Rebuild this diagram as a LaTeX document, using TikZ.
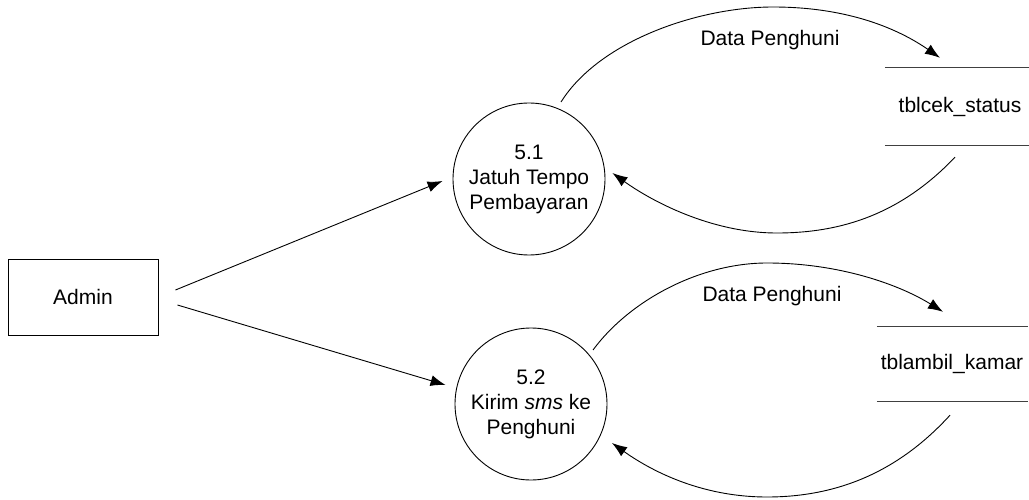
\documentclass[tikz,border=0pt]{standalone}
\usepackage{fontspec}
\setmainfont{Liberation Sans}
\usetikzlibrary{arrows.meta,calc}
\begin{document}
\begin{tikzpicture}[x=1pt,y=-1pt,
  every node/.style={font=\fontsize{21}{25}\selectfont},
  flow/.style={line width=0.9pt,-{Latex[length=15pt,width=11pt]}},
  proc/.style={circle,draw,line width=0.9pt,minimum size=152pt,inner sep=0pt,align=center},
  ent/.style={rectangle,draw,line width=0.9pt,minimum width=150pt,minimum height=76pt,inner sep=0pt},
  store/.style={rectangle,inner sep=0pt},
  storeline/.style={line width=0.9pt,draw=black!75},
  lbl/.style={inner sep=0pt}]
\useasboundingbox (0,0) rectangle (1029,500);

\node[ent] (admin) at (83,297) {Admin};
\node[proc] (c1) at (529,179) {5.1\\Jatuh Tempo\\Pembayaran};
\node[proc] (c2) at (531,404) {5.2\\Kirim \textit{sms} ke\\Penghuni};

\node[store,minimum width=144pt,minimum height=77pt] (s1) at (957,106.5) {};
\node[lbl] (t1) at (960,107) {tblcek\_status};
\draw[storeline] (s1.north west) -- (s1.north east);
\draw[storeline] (s1.south west) -- (s1.south east);

\node[store,minimum width=151pt,minimum height=74pt] (s2) at (952.5,364) {};
\node[lbl] (t2) at (952,364) {tblambil\_kamar};
\draw[storeline] (s2.north west) -- (s2.north east);
\draw[storeline] (s2.south west) -- (s2.south east);

\draw[flow] ($(admin.east)+(17,-7)$) -- ($(c1.west)+(-10,2)$);
\draw[flow] ($(admin.east)+(19,8)$) -- ($(c2.west)+(-9,-19)$);

\draw[flow] ($(c1.center)+(32,-77)$) .. controls (600,40) and (700,7) .. (773,7)
  .. controls (850,7) and (900,30) .. ($(s1.north)+(-17,-10)$);
\node[lbl] (l1) at (770,40) {Data Penghuni};

\draw[flow] ($(s1.south)+(-2,12)$) .. controls (900,215) and (840,233) .. (777,233)
  .. controls (710,233) and (650,200) .. ($(c1.east)+(7,-6)$);

\draw[flow] ($(c2.center)+(62,-54)$) .. controls (630,300) and (700,263) .. (767,263)
  .. controls (840,263) and (900,285) .. ($(s2.north)+(-9.5,-15)$);
\node[lbl] (l2) at (772,296) {Data Penghuni};

\draw[flow] ($(s2.south)+(-2.5,14)$) .. controls (900,470) and (840,497) .. (767,497)
  .. controls (700,497) and (650,470) .. ($(c2.center)+(81,39)$);
\end{tikzpicture}
\end{document}
